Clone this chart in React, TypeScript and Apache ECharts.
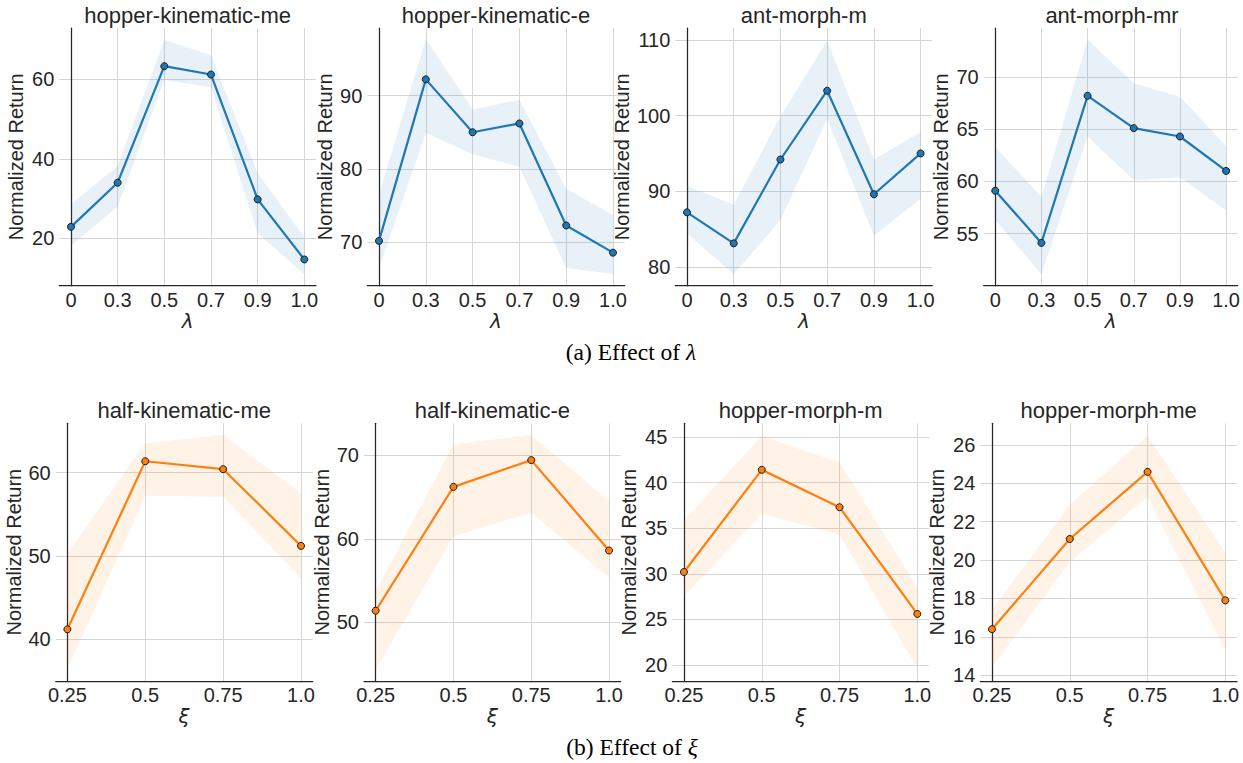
import React, { useEffect, useRef } from "react";
import * as echarts from "echarts";

// ---------- data ----------
const lambdaLabels = ["0", "0.3", "0.5", "0.7", "0.9", "1.0"];
const xiLabels = ["0.25", "0.5", "0.75", "1.0"];

const panelTitles = [
  "hopper-kinematic-me",
  "hopper-kinematic-e",
  "ant-morph-m",
  "ant-morph-mr",
  "half-kinematic-me",
  "half-kinematic-e",
  "hopper-morph-m",
  "hopper-morph-me",
];

// (a) effect of lambda
const hkmeMean = [22.9, 34.0, 63.3, 61.2, 29.8, 14.7];
const hkmeUpper = [28.6, 38.2, 69.9, 66.1, 36.4, 20.3];
const hkmeLower = [18.1, 28.0, 59.8, 58.0, 21.3, 11.0];

const hkeMean = [70.2, 92.2, 85.0, 86.2, 72.3, 68.6];
const hkeUpper = [76.5, 97.7, 88.1, 89.4, 77.3, 73.7];
const hkeLower = [66.5, 84.9, 82.0, 80.3, 66.5, 65.7];

const ammMean = [87.2, 83.1, 94.2, 103.3, 89.6, 95.0];
const ammUpper = [90.7, 88.2, 99.9, 109.9, 94.2, 97.8];
const ammLower = [84.4, 79.0, 86.2, 99.6, 84.1, 89.0];

const ammrMean = [59.1, 54.1, 68.2, 65.1, 64.3, 61.0];
const ammrUpper = [63.3, 58.5, 73.6, 69.4, 68.1, 63.4];
const ammrLower = [56.3, 51.1, 64.3, 60.1, 60.4, 57.2];

// (b) effect of xi
const hlkmeMean = [41.2, 61.35, 60.4, 51.2];
const hlkmeUpper = [50.3, 63.5, 64.5, 57.5];
const hlkmeLower = [36.4, 57.2, 57.1, 47.3];

const hlkeMean = [51.4, 66.2, 69.4, 58.6];
const hlkeUpper = [53.7, 71.3, 72.4, 64.5];
const hlkeLower = [44.3, 60.3, 63.1, 55.3];

const hmmMean = [30.2, 41.4, 37.3, 25.6];
const hmmUpper = [35.9, 45.1, 42.2, 28.5];
const hmmLower = [27.5, 36.6, 34.3, 19.6];

const hmmeMean = [16.4, 21.1, 24.6, 17.9];
const hmmeUpper = [17.4, 22.9, 26.5, 20.4];
const hmmeLower = [14.4, 19.9, 23.3, 15.3];

const yTicks = [
  [20, 40, 60],
  [70, 80, 90],
  [80, 90, 100, 110],
  [55, 60, 65, 70],
  [40, 50, 60],
  [50, 60, 70],
  [20, 25, 30, 35, 40, 45],
  [14, 16, 18, 20, 22, 24, 26],
];
const yRanges = [
  [8.1, 72.9],
  [64.1, 99.2],
  [77.5, 111.6],
  [50.0, 74.7],
  [35.0, 65.9],
  [43.0, 73.8],
  [18.25, 46.5],
  [13.7, 27.13],
];

const means = [hkmeMean, hkeMean, ammMean, ammrMean, hlkmeMean, hlkeMean, hmmMean, hmmeMean];
const uppers = [hkmeUpper, hkeUpper, ammUpper, ammrUpper, hlkmeUpper, hlkeUpper, hmmUpper, hmmeUpper];
const lowers = [hkmeLower, hkeLower, ammLower, ammrLower, hlkmeLower, hlkeLower, hmmLower, hmmeLower];

// ---------- layout ----------
const layout = [
  { left: 59.3, top: 28, width: 256.7, height: 257.7, yGap: 33 },
  { left: 367.3, top: 28, width: 257.4, height: 257.7, yGap: 32 },
  { left: 675.3, top: 28, width: 257, height: 257.7, yGap: 43 },
  { left: 983.7, top: 28, width: 256.6, height: 257.7, yGap: 33 },
  { left: 55.7, top: 423.3, width: 257, height: 257.7, yGap: 32 },
  { left: 364, top: 423.3, width: 256.7, height: 257.7, yGap: 32 },
  { left: 672.3, top: 423.3, width: 256.7, height: 257.7, yGap: 33 },
  { left: 980.3, top: 423.3, width: 256.7, height: 257.7, yGap: 33 },
];

const BLUE = "#1f77b4";
const ORANGE = "#ff7f0e";
const TXT = "#262626";
const GRIDC = "#d6d6d6";

export default function App() {
  const ref = useRef<HTMLDivElement>(null);

  useEffect(() => {
    if (!ref.current) return;
    const chart = echarts.init(ref.current, undefined, { renderer: "svg" });

    const grids: any[] = [];
    const xAxes: any[] = [];
    const yAxes: any[] = [];
    const series: any[] = [];
    const titles: any[] = [];

    for (let i = 0; i < 8; i++) {
      const top = i < 4;
      const labels = top ? lambdaLabels : xiLabels;
      const n = labels.length;
      const idx = labels.map((_, k) => k);
      const margin = 0.05 * (n - 1);
      const L = layout[i];
      const color = top ? BLUE : ORANGE;
      const band = top ? "rgba(31,119,180,0.1)" : "rgba(255,127,14,0.1)";

      grids.push({ left: L.left, top: L.top, width: L.width, height: L.height, containLabel: false });

      titles.push({
        text: panelTitles[i],
        left: L.left + L.width / 2,
        top: L.top - 24,
        textAlign: "center",
        padding: 0,
        textStyle: { fontFamily: "Liberation Sans", fontSize: 22, fontWeight: "normal", color: TXT },
      });

      xAxes.push({
        gridIndex: i,
        type: "value",
        min: -margin,
        max: n - 1 + margin,
        name: top ? "λ" : "ξ",
        nameLocation: "middle",
        nameGap: 25,
        nameTextStyle: { fontFamily: "DejaVu Sans", fontStyle: "italic", fontSize: 20, color: TXT },
        axisLine: { show: true, onZero: false, lineStyle: { color: TXT, width: 1.25 } },
        axisTick: { show: false, customValues: idx },
        axisLabel: {
          customValues: idx,
          formatter: (v: number) => labels[Math.round(v)],
          fontFamily: "Liberation Sans",
          fontSize: 20,
          color: TXT,
          margin: 4,
        },
        splitLine: { show: true, lineStyle: { color: GRIDC, width: 1 } },
      });

      yAxes.push({
        gridIndex: i,
        type: "value",
        min: yRanges[i][0],
        max: yRanges[i][1],
        name: "Normalized Return",
        nameLocation: "middle",
        nameGap: L.yGap,
        nameTextStyle: { fontFamily: "Liberation Sans", fontSize: 20, color: TXT },
        axisLine: { show: true, lineStyle: { color: TXT, width: 1.25 } },
        axisTick: { show: false, customValues: yTicks[i] },
        axisLabel: {
          customValues: yTicks[i],
          fontFamily: "Liberation Sans",
          fontSize: 20,
          color: TXT,
          margin: 5,
        },
        splitLine: { show: true, lineStyle: { color: GRIDC, width: 1 } },
      });

      const up = uppers[i];
      const lo = lowers[i];
      series.push({
        type: "custom",
        xAxisIndex: i,
        yAxisIndex: i,
        silent: true,
        z: 1,
        data: [[0, lo[0]]],
        renderItem: (_params: any, api: any) => {
          const pts: number[][] = [];
          for (let k = 0; k < up.length; k++) pts.push(api.coord([k, up[k]]));
          for (let k = lo.length - 1; k >= 0; k--) pts.push(api.coord([k, lo[k]]));
          return { type: "polygon", shape: { points: pts }, style: { fill: band } };
        },
      });

      series.push({
        type: "line",
        xAxisIndex: i,
        yAxisIndex: i,
        z: 3,
        data: means[i].map((v, k) => [k, v]),
        symbol: "circle",
        symbolSize: 7,
        lineStyle: { color, width: 2.2 },
        itemStyle: { color, borderColor: "#1a1a1a", borderWidth: 1 },
      });
    }

    const captionStyle = {
      fontFamily: "Liberation Serif",
      fontSize: 23.5,
      fontWeight: "normal",
      color: "#000",
      rich: { i: { fontFamily: "Liberation Serif", fontStyle: "italic", fontSize: 23.5, color: "#000" } },
    };
    titles.push({
      text: "(a) Effect of {i|λ}",
      left: 631,
      top: 340,
      textAlign: "center",
      padding: 0,
      textStyle: captionStyle,
    });
    titles.push({
      text: "(b) Effect of {i|ξ}",
      left: 632,
      top: 735,
      textAlign: "center",
      padding: 0,
      textStyle: captionStyle,
    });

    chart.setOption({
      animation: false,
      backgroundColor: "#ffffff",
      textStyle: { fontFamily: "Liberation Sans" },
      title: titles,
      grid: grids,
      xAxis: xAxes,
      yAxis: yAxes,
      series,
    });

    return () => chart.dispose();
  }, []);

  return (
    <div
      ref={ref}
      style={{ position: "absolute", left: 0, top: 0, width: 1243, height: 763 }}
    />
  );
}
